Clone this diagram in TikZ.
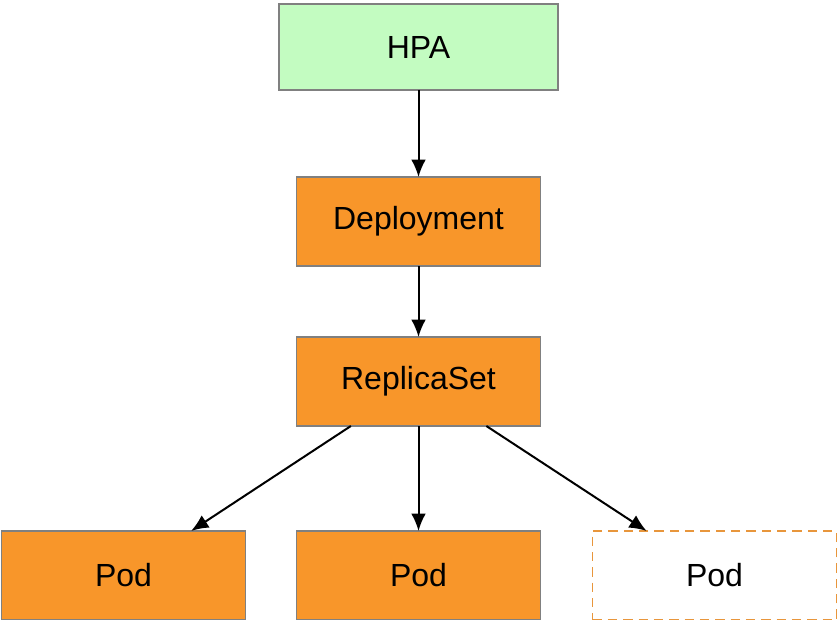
\documentclass[tikz,border=0pt]{standalone}
\usepackage{fontspec}
\setmainfont{Liberation Sans}
\usetikzlibrary{arrows.meta,positioning}
\definecolor{hpagreen}{HTML}{C3FCC1}
\definecolor{k8sorange}{HTML}{F8962A}
\definecolor{boxgray}{HTML}{808080}
\definecolor{dashorange}{HTML}{E8963C}

\begin{document}
\begin{tikzpicture}[
        x=0.75pt, y=0.75pt,
        block/.style={draw=boxgray, line width=1.4pt, rectangle, fill=k8sorange, outer sep=0pt,
            minimum height=66.75pt, minimum width=183pt, font=\fontsize{24}{28}\selectfont},
        hpabox/.style={block, fill=hpagreen, minimum width=209.25pt, minimum height=64.5pt},
        spare/.style={block, draw=dashorange, fill=white, dash pattern=on 7pt off 4.5pt},
        >={Latex[length=13pt,width=11pt]}
    ]
        \useasboundingbox (0,0) rectangle (838,-620);
        \node[hpabox] (hpa) at (418.5,-47) {HPA};
        \node[block, below=65.25pt of hpa] (deploy) {Deployment};
        \node[block, below=53.25pt of deploy] (rs) {ReplicaSet};
        \node[block, below=78.75pt of rs] (pod2) {Pod};
        \node[block, left=38.25pt of pod2] (pod1) {Pod};
        \node[spare, right=39pt of pod2] (pod3) {Pod};
        \draw[->, line width=1.5pt] (hpa) -- (deploy);
        \draw[->, line width=1.5pt] (deploy) -- (rs);
        \draw[->, line width=1.5pt] (rs) -- (pod1);
        \draw[->, line width=1.5pt] (rs) -- (pod2);
        \draw[->, line width=1.5pt] (rs) -- (pod3);
    \end{tikzpicture}
\end{document}
